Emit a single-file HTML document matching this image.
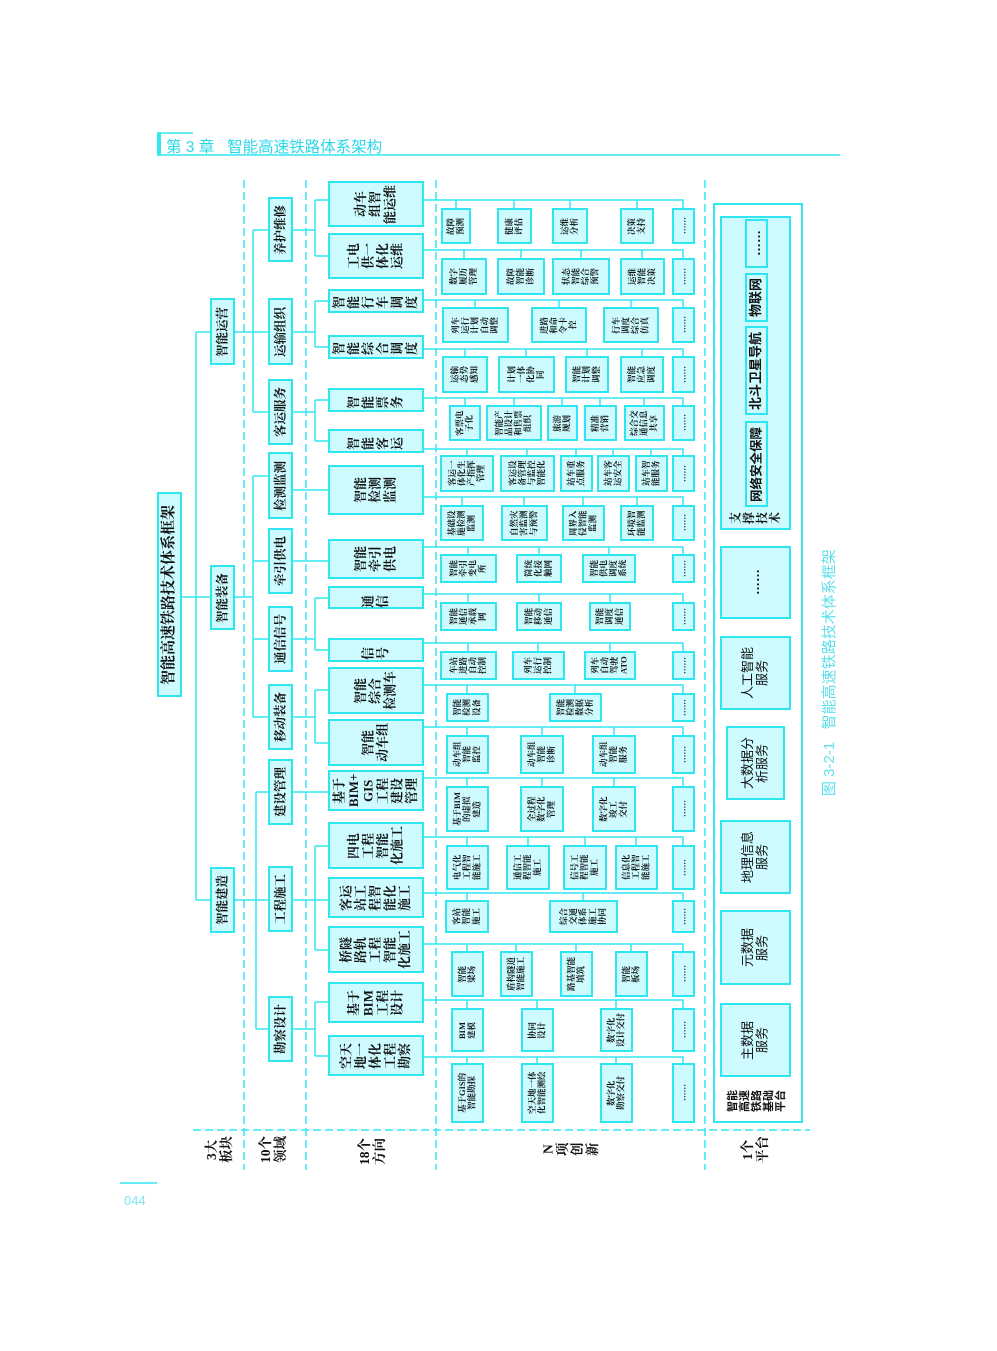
<!DOCTYPE html>
<html><head><meta charset="utf-8">
<style>
html,body{margin:0;padding:0;background:#fff;}
body{width:997px;height:1351px;position:relative;overflow:hidden;}
.b{position:absolute;box-sizing:border-box;border:2px solid #2ee6ef;background:#cdfbff;writing-mode:vertical-rl;text-orientation:sideways;transform:rotate(180deg);display:flex;align-items:center;justify-content:center;text-align:center;font-family:"Liberation Serif","Noto Serif CJK SC",serif;font-weight:bold;color:#111;line-height:1.12;}
.s{font-size:8.5px;}
.m{font-size:13px;}
.l{font-size:12.5px;}
.p{font-family:"Liberation Sans","Noto Sans CJK SC",sans-serif;font-weight:normal;font-size:13px;}
.t{position:absolute;writing-mode:vertical-rl;text-orientation:sideways;transform:rotate(180deg);display:flex;align-items:center;justify-content:center;text-align:center;font-family:"Liberation Serif","Noto Serif CJK SC",serif;font-weight:bold;color:#111;line-height:1.1;}
</style></head><body>

<svg width="997" height="1351" style="position:absolute;left:0;top:0" xmlns="http://www.w3.org/2000/svg">
<g stroke="#33e6f0" stroke-width="1.5" fill="none" stroke-dasharray="8,4">
<path d="M244 180V1170M306 180V1170M436 180V1170M705 180V1170M193 1130H810"/>
</g>
<g stroke="#33e6f0" stroke-width="1.5" fill="none">
<path d="M157 155H840M157 133H193M120 1183H157"/>
<path d="M181 597H210M196 332V900M196 332H210M196 900H210"/>
<path d="M235 332H253M253 230V412M253 230H268M253 332H268M253 412H268"/>
<path d="M235 597H253M253 476V717M253 476H268M253 561H268M253 639H268M253 717H268"/>
<path d="M235 900H268M256 792V1029M256 792H268M256 1029H268"/>
<path d="M293 230H315M315 200V256M315 200H328M315 256H328"/>
<path d="M293 332H315M315 301V347M315 301H328M315 347H328"/>
<path d="M293 412H315M315 400V441M315 400H328M315 441H328"/>
<path d="M293 490H328M293 561H328"/>
<path d="M293 639H315M315 598V650M315 598H328M315 650H328"/>
<path d="M293 717H315M315 690V743M315 690H328M315 743H328"/>
<path d="M293 792H328"/>
<path d="M293 900H328M315 846V950M315 846H328M315 950H328"/>
<path d="M293 1029H315M315 1002V1056M315 1002H328M315 1056H328"/>
<path d="M424 200H683V208M456 200V208M514 200V208M570 200V208M637 200V208"/>
<path d="M424 250H683V258M464 250V258M521 250V258M581 250V258M642 250V258"/>
<path d="M424 300H683V307M475 300V307M559 300V307M631 300V307"/>
<path d="M424 349H683V356M465 349V356M526 349V356M587 349V356M642 349V356"/>
<path d="M424 398H683V405M465 398V405M514 398V405M562 398V405M600 398V405M644 398V405"/>
<path d="M424 449H683V455M467 449V455M527 449V455M576 449V455M613 449V455M651 449V455"/>
<path d="M424 497H683V505M462 497V505M524 497V505M583 497V505M637 497V505"/>
<path d="M424 547H683V554M468 547V554M539 547V554M609 547V554"/>
<path d="M424 594H683V602M468 594V602M539 594V602M610 594V602"/>
<path d="M424 643H683V651M468 643V651M538 643V651M610 643V651"/>
<path d="M424 685H683V693M467 685V693M575 685V693"/>
<path d="M424 727H683V735M467 727V735M542 727V735M614 727V735"/>
<path d="M424 778H683V786M467 778V786M542 778V786M614 778V786"/>
<path d="M424 837H683V845M467 837V845M528 837V845M585 837V845M636 837V845"/>
<path d="M424 893H683V900M467 893V900M583 893V900"/>
<path d="M424 944H683V951M467 944V951M516 944V951M576 944V951M631 944V951"/>
<path d="M424 1000H683V1008M467 1000V1008M537 1000V1008M616 1000V1008"/>
<path d="M424 1057H683V1063M467 1057V1063M537 1057V1063M616 1057V1063"/>
</g>
<rect x="714" y="204" width="88" height="918" fill="#fff" stroke="#33e6f0" stroke-width="2"/>
<rect x="157" y="133" width="4" height="22" fill="#33e6f0"/>
</svg>

<div style="position:absolute;left:166px;top:135px;font-family:'Liberation Sans','Noto Sans CJK SC',sans-serif;font-size:15.5px;color:#2ad8e8;white-space:pre">第 3 章   智能高速铁路体系架构</div>
<div style="position:absolute;left:124px;top:1193px;font-family:'Liberation Sans',sans-serif;font-size:13px;color:#7fe6ee">044</div>

<div class="b" style="left:157px;top:492px;width:25px;height:205px;font-size:15px">智能高速铁路技术体系框架</div>

<div class="b l" style="left:210px;top:298px;width:25px;height:67px">智能运营</div>
<div class="b l" style="left:210px;top:565px;width:25px;height:65px">智能装备</div>
<div class="b l" style="left:210px;top:867px;width:25px;height:66px">智能建造</div>

<div class="b l" style="left:268px;top:197px;width:25px;height:65px">养护维修</div>
<div class="b l" style="left:268px;top:298px;width:25px;height:67px">运输组织</div>
<div class="b l" style="left:268px;top:379px;width:25px;height:66px">客运服务</div>
<div class="b l" style="left:268px;top:452px;width:25px;height:67px">检测监测</div>
<div class="b l" style="left:268px;top:528px;width:25px;height:66px">牵引供电</div>
<div class="b l" style="left:268px;top:606px;width:25px;height:66px">通信信号</div>
<div class="b l" style="left:268px;top:684px;width:25px;height:66px">移动装备</div>
<div class="b l" style="left:268px;top:759px;width:25px;height:66px">建设管理</div>
<div class="b l" style="left:268px;top:866px;width:25px;height:66px">工程施工</div>
<div class="b l" style="left:268px;top:996px;width:25px;height:66px">勘察设计</div>

<div class="b m" style="left:328px;top:181px;width:96px;height:46px">动车<br>组智<br>能运维</div>
<div class="b m" style="left:328px;top:233px;width:96px;height:46px">工电<br>供一<br>体化<br>运维</div>
<div class="b m" style="left:328px;top:289px;width:96px;height:24px;letter-spacing:3px">智能行车调度</div>
<div class="b m" style="left:328px;top:335px;width:96px;height:24px;letter-spacing:3px">智能综合调度</div>
<div class="b m" style="left:328px;top:388px;width:96px;height:24px;letter-spacing:5px">智能票务</div>
<div class="b m" style="left:328px;top:429px;width:96px;height:24px;letter-spacing:5px">智能客运</div>
<div class="b m" style="left:328px;top:465px;width:96px;height:50px">智能<br>检测<br>监测</div>
<div class="b m" style="left:328px;top:539px;width:96px;height:40px">智能<br>牵引<br>供电</div>
<div class="b m" style="left:328px;top:586px;width:96px;height:23px;letter-spacing:8px">通信</div>
<div class="b m" style="left:328px;top:638px;width:96px;height:24px;letter-spacing:8px">信号</div>
<div class="b m" style="left:328px;top:667px;width:96px;height:47px">智能<br>综合<br>检测车</div>
<div class="b m" style="left:328px;top:719px;width:96px;height:47px">智能<br>动车组</div>
<div class="b m" style="left:328px;top:770px;width:96px;height:41px">基于<br>BIM+<br>GIS<br>工程<br>建设<br>管理</div>
<div class="b m" style="left:328px;top:822px;width:96px;height:47px">四电<br>工程<br>智能<br>化施工</div>
<div class="b m" style="left:328px;top:877px;width:96px;height:41px">客运<br>站工<br>程智<br>能化<br>施工</div>
<div class="b m" style="left:328px;top:926px;width:96px;height:47px">桥隧<br>路轨<br>工程<br>智能<br>化施工</div>
<div class="b m" style="left:328px;top:982px;width:96px;height:41px">基于<br>BIM<br>工程<br>设计</div>
<div class="b m" style="left:328px;top:1035px;width:96px;height:41px">空天<br>地一<br>体化<br>工程<br>勘察</div>

<!-- r1 -->
<div class="b s" style="left:441px;top:208px;width:30px;height:36px">故障<br>预测</div>
<div class="b s" style="left:497px;top:208px;width:35px;height:36px">健康<br>评估</div>
<div class="b s" style="left:552px;top:208px;width:36px;height:36px">运维<br>分析</div>
<div class="b s" style="left:620px;top:208px;width:34px;height:36px">决策<br>支持</div>
<div class="b s" style="left:672px;top:208px;width:23px;height:36px">……</div>
<!-- r2 -->
<div class="b s" style="left:441px;top:258px;width:46px;height:37px">数字<br>履历<br>管理</div>
<div class="b s" style="left:497px;top:258px;width:48px;height:37px">故障<br>智能<br>诊断</div>
<div class="b s" style="left:552px;top:258px;width:58px;height:37px">状态<br>智能<br>综合<br>预警</div>
<div class="b s" style="left:620px;top:258px;width:45px;height:37px">运维<br>智能<br>决策</div>
<div class="b s" style="left:672px;top:258px;width:23px;height:37px">……</div>
<!-- r3 -->
<div class="b s" style="left:442px;top:307px;width:67px;height:36px">列车<br>运行<br>计划<br>自动<br>调整</div>
<div class="b s" style="left:531px;top:307px;width:56px;height:36px">进路<br>和命<br>令卡<br>控</div>
<div class="b s" style="left:603px;top:307px;width:56px;height:36px">行车<br>调度<br>综合<br>仿真</div>
<div class="b s" style="left:672px;top:307px;width:23px;height:36px">……</div>
<!-- r4 -->
<div class="b s" style="left:442px;top:356px;width:46px;height:37px">运输<br>态势<br>感知</div>
<div class="b s" style="left:498px;top:356px;width:57px;height:37px">计划<br>一体<br>化协<br>同</div>
<div class="b s" style="left:565px;top:356px;width:44px;height:37px">智能<br>计划<br>调整</div>
<div class="b s" style="left:620px;top:356px;width:44px;height:37px">智能<br>应急<br>调度</div>
<div class="b s" style="left:672px;top:356px;width:23px;height:37px">……</div>
<!-- r5 -->
<div class="b s" style="left:449px;top:405px;width:32px;height:36px">客票电<br>子化</div>
<div class="b s" style="left:486px;top:405px;width:56px;height:36px">智能产<br>品设计<br>和售票<br>组织</div>
<div class="b s" style="left:547px;top:405px;width:31px;height:36px">旅游<br>规划</div>
<div class="b s" style="left:584px;top:405px;width:33px;height:36px">精准<br>营销</div>
<div class="b s" style="left:624px;top:405px;width:41px;height:36px">综合交<br>通信息<br>共享</div>
<div class="b s" style="left:672px;top:405px;width:23px;height:36px">……</div>
<!-- r6 -->
<div class="b s" style="left:440px;top:455px;width:54px;height:37px">客运一<br>体化生<br>产指挥<br>管理</div>
<div class="b s" style="left:500px;top:455px;width:55px;height:37px">客运设<br>备管理<br>与监控<br>智能化</div>
<div class="b s" style="left:560px;top:455px;width:33px;height:37px">站车重<br>点服务</div>
<div class="b s" style="left:597px;top:455px;width:33px;height:37px">站车客<br>运安全</div>
<div class="b s" style="left:635px;top:455px;width:33px;height:37px">站车智<br>能服务</div>
<div class="b s" style="left:672px;top:455px;width:23px;height:37px">……</div>
<!-- r7 -->
<div class="b s" style="left:440px;top:505px;width:44px;height:36px">基础设<br>施检测<br>监测</div>
<div class="b s" style="left:501px;top:505px;width:47px;height:36px">自然灾<br>害监测<br>与预警</div>
<div class="b s" style="left:562px;top:505px;width:43px;height:36px">周界入<br>侵智能<br>监测</div>
<div class="b s" style="left:620px;top:505px;width:34px;height:36px">环境智<br>能监测</div>
<div class="b s" style="left:672px;top:505px;width:23px;height:36px">……</div>
<!-- r8 -->
<div class="b s" style="left:440px;top:554px;width:57px;height:29px">智能<br>牵引<br>变电<br>所</div>
<div class="b s" style="left:516px;top:554px;width:46px;height:29px">简统<br>化接<br>触网</div>
<div class="b s" style="left:582px;top:554px;width:54px;height:29px">智能<br>供电<br>调度<br>系统</div>
<div class="b s" style="left:672px;top:554px;width:23px;height:29px">……</div>
<!-- r9 -->
<div class="b s" style="left:440px;top:602px;width:57px;height:29px">智能<br>通信<br>承载<br>网</div>
<div class="b s" style="left:516px;top:602px;width:46px;height:29px">智能<br>移动<br>通信</div>
<div class="b s" style="left:589px;top:602px;width:42px;height:29px">智能<br>调度<br>通信</div>
<div class="b s" style="left:672px;top:602px;width:23px;height:29px">……</div>
<!-- r10 -->
<div class="b s" style="left:440px;top:651px;width:57px;height:29px">车站<br>进路<br>自动<br>控制</div>
<div class="b s" style="left:512px;top:651px;width:53px;height:29px">列车<br>运行<br>控制</div>
<div class="b s" style="left:584px;top:651px;width:52px;height:29px">列车<br>自动<br>驾驶<br>ATO</div>
<div class="b s" style="left:672px;top:651px;width:23px;height:29px">……</div>
<!-- r11 -->
<div class="b s" style="left:446px;top:693px;width:43px;height:29px">智能<br>检测<br>设备</div>
<div class="b s" style="left:549px;top:693px;width:53px;height:29px">智能<br>检测<br>数据<br>分析</div>
<div class="b s" style="left:672px;top:693px;width:23px;height:29px">……</div>
<!-- r12 -->
<div class="b s" style="left:446px;top:735px;width:43px;height:39px">动车组<br>智能<br>监控</div>
<div class="b s" style="left:520px;top:735px;width:44px;height:39px">动车组<br>智能<br>诊断</div>
<div class="b s" style="left:592px;top:735px;width:44px;height:39px">动车组<br>智能<br>服务</div>
<div class="b s" style="left:672px;top:735px;width:23px;height:39px">……</div>
<!-- r13 -->
<div class="b s" style="left:446px;top:786px;width:43px;height:46px">基于BIM<br>的虚拟<br>建造</div>
<div class="b s" style="left:520px;top:786px;width:44px;height:46px">全过程<br>数字化<br>管理</div>
<div class="b s" style="left:592px;top:786px;width:44px;height:46px">数字化<br>竣工<br>交付</div>
<div class="b s" style="left:672px;top:786px;width:23px;height:46px">……</div>
<!-- r14 -->
<div class="b s" style="left:446px;top:845px;width:43px;height:45px">电气化<br>工程智<br>能施工</div>
<div class="b s" style="left:506px;top:845px;width:44px;height:45px">通信工<br>程智能<br>施工</div>
<div class="b s" style="left:563px;top:845px;width:44px;height:45px">信号工<br>程智能<br>施工</div>
<div class="b s" style="left:615px;top:845px;width:43px;height:45px">信息化<br>工程智<br>能施工</div>
<div class="b s" style="left:672px;top:845px;width:23px;height:45px">……</div>
<!-- r15 -->
<div class="b s" style="left:445px;top:900px;width:44px;height:33px">客站<br>智能<br>施工</div>
<div class="b s" style="left:549px;top:900px;width:69px;height:33px">综合<br>交通<br>体系<br>施工<br>协同</div>
<div class="b s" style="left:672px;top:900px;width:23px;height:33px">……</div>
<!-- r16 -->
<div class="b s" style="left:451px;top:951px;width:33px;height:46px">智能<br>梁场</div>
<div class="b s" style="left:500px;top:951px;width:33px;height:46px">盾构隧道<br>智能施工</div>
<div class="b s" style="left:560px;top:951px;width:33px;height:46px">路基智能<br>填筑</div>
<div class="b s" style="left:615px;top:951px;width:33px;height:46px">智能<br>板场</div>
<div class="b s" style="left:672px;top:951px;width:23px;height:46px">……</div>
<!-- r17 -->
<div class="b s" style="left:451px;top:1008px;width:33px;height:44px">BIM<br>建模</div>
<div class="b s" style="left:521px;top:1008px;width:33px;height:44px">协同<br>设计</div>
<div class="b s" style="left:600px;top:1008px;width:33px;height:44px">数字化<br>设计交付</div>
<div class="b s" style="left:672px;top:1008px;width:23px;height:44px">……</div>
<!-- r18 -->
<div class="b s" style="left:451px;top:1063px;width:33px;height:60px">基于GIS的<br>智能勘探</div>
<div class="b s" style="left:521px;top:1063px;width:33px;height:60px">空天地一体<br>化智能测绘</div>
<div class="b s" style="left:600px;top:1063px;width:33px;height:60px">数字化<br>勘察交付</div>
<div class="b s" style="left:672px;top:1063px;width:23px;height:60px">……</div>

<!-- platform -->
<div class="b p" style="left:720px;top:216px;width:71px;height:314px"></div>
<div class="t" style="left:724px;top:508px;width:64px;height:20px;font-size:12px;font-weight:bold">支<br>撑<br>技<br>术</div>
<div class="b p" style="left:745px;top:219px;width:23px;height:49px;font-weight:bold">……</div>
<div class="b p" style="left:745px;top:273px;width:23px;height:49px;font-weight:bold">物联网</div>
<div class="b p" style="left:745px;top:326px;width:23px;height:89px;font-weight:bold">北斗卫星导航</div>
<div class="b p" style="left:745px;top:421px;width:23px;height:86px;font-weight:bold;font-size:12.5px;white-space:nowrap">网络安全保障</div>
<div class="b p" style="left:720px;top:546px;width:71px;height:73px;font-weight:bold">……</div>
<div class="b p" style="left:720px;top:636px;width:71px;height:74px">人工智能<br>服务</div>
<div class="b p" style="left:726px;top:726px;width:59px;height:74px">大数据分<br>析服务</div>
<div class="b p" style="left:720px;top:820px;width:71px;height:74px">地理信息<br>服务</div>
<div class="b p" style="left:720px;top:910px;width:71px;height:75px">元数据<br>服务</div>
<div class="b p" style="left:720px;top:1003px;width:71px;height:74px">主数据<br>服务</div>
<div class="t" style="left:718px;top:1084px;width:78px;height:34px;font-size:11px;font-family:'Liberation Sans','Noto Sans CJK SC',sans-serif">智能<br>高速<br>铁路<br>基础<br>平台</div>

<div class="t" style="left:818px;top:540px;width:24px;height:265px;font-size:15px;font-weight:normal;color:#5fe0ec;font-family:'Liberation Sans','Noto Sans CJK SC',sans-serif;white-space:pre">图 3-2-1   智能高速铁路技术体系框架</div>

<div class="t" style="left:202px;top:1134px;width:36px;height:32px;font-size:13.5px">3大<br>板块</div>
<div class="t" style="left:256px;top:1134px;width:36px;height:32px;font-size:13.5px">10个<br>领域</div>
<div class="t" style="left:354px;top:1134px;width:38px;height:36px;font-size:13.5px">18个<br>方向</div>
<div class="t" style="left:542px;top:1134px;width:58px;height:30px;font-size:13.5px">N<br>项<br>创<br>新</div>
<div class="t" style="left:738px;top:1134px;width:36px;height:32px;font-size:13.5px">1个<br>平台</div>

</body></html>
